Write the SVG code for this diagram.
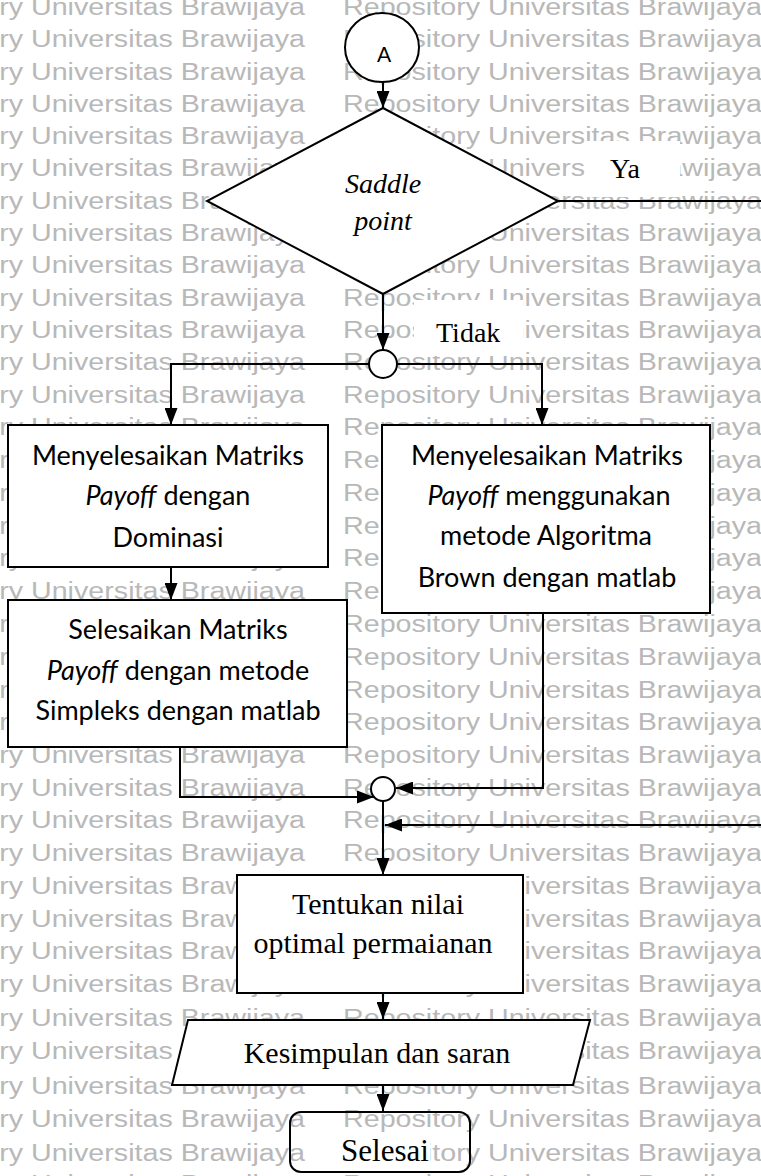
<svg xmlns="http://www.w3.org/2000/svg" width="761" height="1176" viewBox="0 0 761 1176">
<style>
.wm{font-family:"Liberation Sans",Arial,sans-serif;font-size:23px;fill:#b8b8b8}
.shape{fill:#fff;stroke:#000;stroke-width:2}
.open{fill:none;stroke:#000;stroke-width:2}
.conn{fill:none;stroke:#000;stroke-width:2}
.tm{font-family:"Liberation Serif","Times New Roman",serif;font-size:28px;fill:#000}
.cb{font-family:Lato,"Open Sans",sans-serif;font-size:27px;fill:#000;text-anchor:middle}
.mid{text-anchor:middle}
.it{font-style:italic}
.lbl{fill:#fff;stroke:none}
</style>
<defs>
<marker id="ah" viewBox="0 0 17 13" refX="17" refY="6.5" markerWidth="17" markerHeight="13" markerUnits="userSpaceOnUse" orient="auto">
<path d="M0 0 L17 6.5 L0 13 Z" fill="#000"/>
</marker>
<g id="wmrow">
<text class="wm" x="-114" y="0" textLength="419" lengthAdjust="spacingAndGlyphs">Repository Universitas Brawijaya</text>
<text class="wm" x="343" y="0" textLength="419" lengthAdjust="spacingAndGlyphs">Repository Universitas Brawijaya</text>
</g>
</defs>
<rect x="0" y="0" width="761" height="1176" fill="#fff"/>
<g id="watermark">
<use href="#wmrow" y="15"/><use href="#wmrow" y="47"/><use href="#wmrow" y="80"/><use href="#wmrow" y="112"/>
<use href="#wmrow" y="144"/><use href="#wmrow" y="176"/><use href="#wmrow" y="209"/><use href="#wmrow" y="241"/>
<use href="#wmrow" y="273"/><use href="#wmrow" y="306"/><use href="#wmrow" y="338"/><use href="#wmrow" y="370"/>
<use href="#wmrow" y="403"/><use href="#wmrow" y="435"/><use href="#wmrow" y="468"/><use href="#wmrow" y="501"/>
<use href="#wmrow" y="534"/><use href="#wmrow" y="566"/><use href="#wmrow" y="599"/><use href="#wmrow" y="632"/>
<use href="#wmrow" y="665"/><use href="#wmrow" y="698"/><use href="#wmrow" y="730"/><use href="#wmrow" y="763"/>
<use href="#wmrow" y="796"/><use href="#wmrow" y="828"/><use href="#wmrow" y="861"/><use href="#wmrow" y="894"/>
<use href="#wmrow" y="927"/><use href="#wmrow" y="959"/><use href="#wmrow" y="992"/><use href="#wmrow" y="1026"/>
<use href="#wmrow" y="1059"/><use href="#wmrow" y="1094"/><use href="#wmrow" y="1127"/><use href="#wmrow" y="1161"/>
<use href="#wmrow" y="1192"/>
</g>
<g id="connectors">
<path class="conn" d="M383 82 V108" marker-end="url(#ah)"/>
<path class="conn" d="M558 201 H790 V825 H385" marker-end="url(#ah)"/>
<path class="conn" d="M383 294 V350" marker-end="url(#ah)"/>
<path class="conn" d="M369 364 H171 V425" marker-end="url(#ah)"/>
<path class="conn" d="M397 364 H542 V425" marker-end="url(#ah)"/>
<path class="conn" d="M171 567 V600" marker-end="url(#ah)"/>
<path class="conn" d="M180 747 V797 H374" marker-end="url(#ah)"/>
<path class="conn" d="M543 613 V788 H396" marker-end="url(#ah)"/>
<path class="conn" d="M383 801 V875" marker-end="url(#ah)"/>
<path class="conn" d="M383 993 V1019" marker-end="url(#ah)"/>
<path class="conn" d="M383 1085 V1111" marker-end="url(#ah)"/>
</g>
<g id="node-A">
<ellipse class="shape" cx="382" cy="47.5" rx="37" ry="34.5"/>
<text class="cb" x="384" y="62" style="font-size:21px">A</text>
</g>
<g id="node-saddle">
<polygon class="shape" points="383,108 558,201 383,294 207,201"/>
<text class="tm it mid" x="383" y="193">Saddle</text>
<text class="tm it mid" x="383" y="230">point</text>
</g>
<g id="label-ya">
<rect class="lbl" x="585" y="141" width="95" height="56"/>
<text class="tm" x="610" y="178">Ya</text>
</g>
<g id="junction-1">
<circle class="shape" cx="383" cy="364" r="14"/>
</g>
<g id="label-tidak">
<rect class="lbl" x="414" y="300" width="109" height="56"/>
<text class="tm" x="436" y="342">Tidak</text>
</g>
<g id="node-dominasi">
<rect class="shape" x="8" y="425" width="320" height="142"/>
<text class="cb" x="168" y="465">Menyelesaikan Matriks</text>
<text class="cb" x="168" y="505"><tspan class="it">Payoff</tspan> dengan</text>
<text class="cb" x="168" y="547">Dominasi</text>
</g>
<g id="node-brown">
<rect class="shape" x="382" y="425" width="328" height="188"/>
<text class="cb" x="547" y="465">Menyelesaikan Matriks</text>
<text class="cb" x="549" y="505"><tspan class="it">Payoff</tspan> menggunakan</text>
<text class="cb" x="546" y="545">metode Algoritma</text>
<text class="cb" x="547" y="587">Brown dengan matlab</text>
</g>
<g id="node-simpleks">
<rect class="shape" x="8" y="600" width="339" height="147"/>
<text class="cb" x="178" y="639">Selesaikan Matriks</text>
<text class="cb" x="178" y="680"><tspan class="it">Payoff</tspan> dengan metode</text>
<text class="cb" x="178" y="720">Simpleks dengan matlab</text>
</g>
<g id="junction-2">
<circle class="shape" cx="383" cy="789" r="12"/>
</g>
<g id="node-tentukan">
<rect class="shape" x="237" y="875" width="286" height="118"/>
<text class="tm mid" x="378" y="914" style="font-size:30px">Tentukan nilai</text>
<text class="tm mid" x="373" y="953" style="font-size:30px">optimal permaianan</text>
</g>
<g id="node-kesimpulan">
<polygon class="shape" points="188,1020 590,1020 573,1085 172,1085"/>
<text class="tm mid" x="377" y="1063" style="font-size:30px">Kesimpulan dan saran</text>
</g>
<g id="node-selesai">
<rect class="open" x="290" y="1112" width="180" height="60" rx="11"/>
<rect class="lbl" x="338" y="1136" width="92" height="33"/>
<text class="tm mid" x="385" y="1161" style="font-size:31px">Selesai</text>
</g>
</svg>
